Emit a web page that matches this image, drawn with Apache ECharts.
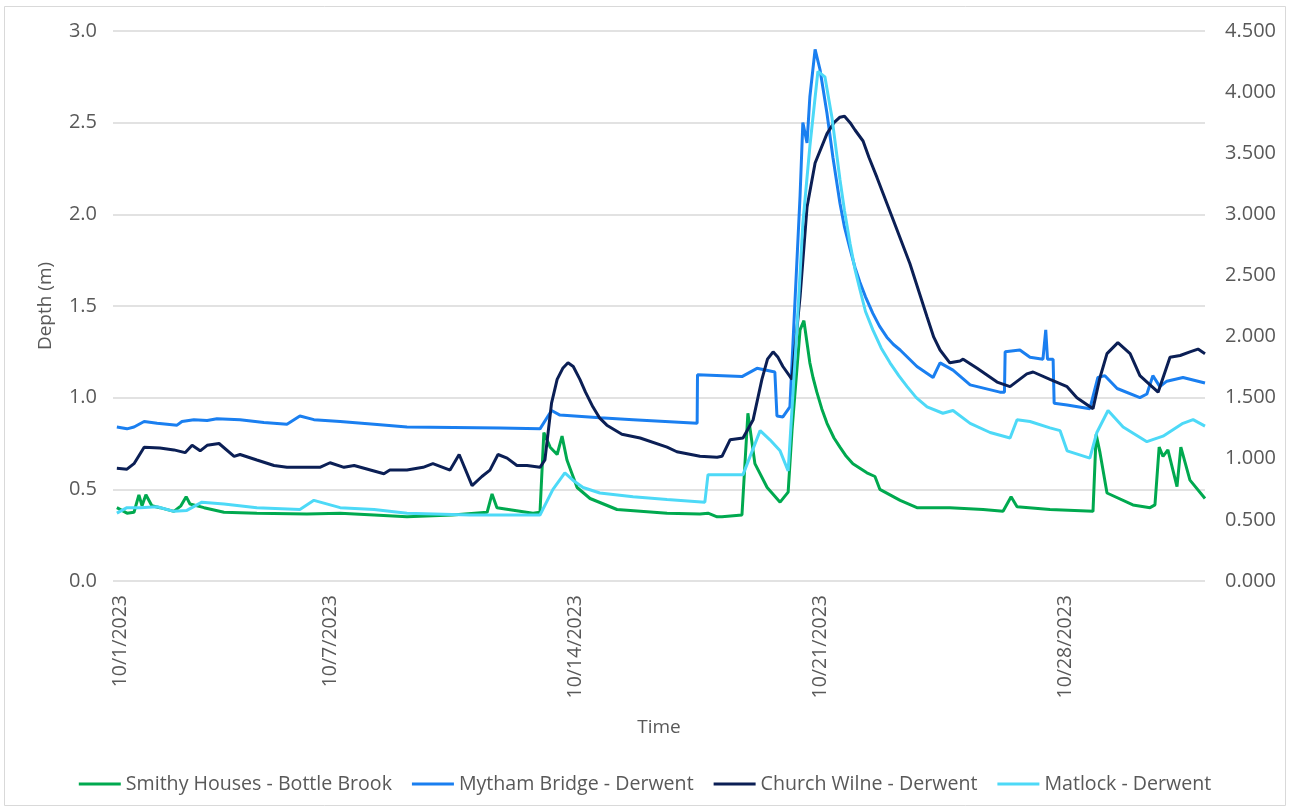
<!DOCTYPE html>
<html>
<head>
<meta charset="utf-8">
<script src="https://cdn.jsdelivr.net/npm/echarts@6/dist/echarts.min.js"></script>
<style>
html,body{margin:0;padding:0;background:#fff;}
#chart{width:1290px;height:811px;}
</style>
</head>
<body>
<div id="chart"></div>
<script>
// x values are days since 10/1/2023 00:00
const xTickDays = [0, 6, 13, 20, 27];
const xTickLabels = ['10/1/2023', '10/7/2023', '10/14/2023', '10/21/2023', '10/28/2023'];
const leftTicks = [0, 0.5, 1.0, 1.5, 2.0, 2.5, 3.0];
const rightTicks = [0, 0.5, 1, 1.5, 2, 2.5, 3, 3.5, 4, 4.5];

const seriesNames = ['Smithy Houses - Bottle Brook', 'Mytham Bridge - Derwent', 'Church Wilne - Derwent', 'Matlock - Derwent'];

const smithyDays = [-0.09,0.2,0.4,0.54,0.63,0.74,0.91,1.14,1.54,1.74,1.89,2.0,2.4,2.97,3.91,5.34,6.29,7.26,8.2,9.5,10.49,10.63,10.77,11.8,12.0,12.11,12.29,12.49,12.63,12.77,13.06,13.43,14.2,15.63,16.57,16.8,17.06,17.2,17.77,17.94,18.14,18.49,18.86,19.09,19.2,19.43,19.54,19.71,19.8,19.91,20.05,20.2,20.4,20.57,20.75,20.94,21.34,21.57,21.71,22.29,22.77,23.71,24.66,25.23,25.46,25.63,26.57,27.8,27.89,28.0,28.2,28.94,29.43,29.57,29.69,29.8,29.94,30.2,30.31,30.57,31.0];
const smithyDepth = [0.40,0.37,0.375,0.47,0.41,0.47,0.41,0.40,0.38,0.41,0.46,0.42,0.40,0.375,0.37,0.365,0.37,0.36,0.35,0.36,0.375,0.475,0.40,0.37,0.375,0.81,0.73,0.69,0.79,0.66,0.51,0.45,0.39,0.37,0.365,0.37,0.35,0.35,0.36,0.915,0.64,0.51,0.43,0.485,0.82,1.37,1.42,1.19,1.11,1.03,0.94,0.86,0.78,0.73,0.68,0.64,0.59,0.57,0.50,0.44,0.40,0.40,0.39,0.38,0.46,0.405,0.39,0.38,0.80,0.70,0.48,0.415,0.40,0.415,0.73,0.68,0.715,0.515,0.73,0.55,0.45];

const mythamDays = [-0.09,0.2,0.4,0.69,1.06,1.63,1.77,2.11,2.49,2.77,3.43,4.11,4.77,5.14,5.54,6.29,7.26,8.2,10.86,12.0,12.33,12.57,13.71,14.66,16.49,16.5,17.77,18.2,18.71,18.77,18.94,19.14,19.43,19.51,19.63,19.71,19.86,20.0,20.2,20.37,20.57,20.7,20.86,21.0,21.14,21.3,21.51,21.7,21.91,22.1,22.29,22.77,23.23,23.43,23.8,24.29,25.14,25.27,25.29,25.71,26.0,26.37,26.45,26.5,26.66,26.69,27.06,27.71,27.94,28.14,28.49,29.14,29.34,29.51,29.71,29.91,30.37,31.0];
const mythamDepth = [0.84,0.83,0.84,0.87,0.86,0.85,0.87,0.88,0.875,0.885,0.88,0.865,0.855,0.90,0.88,0.87,0.855,0.84,0.835,0.83,0.93,0.905,0.89,0.88,0.86,1.125,1.115,1.16,1.14,0.90,0.895,0.95,2.10,2.50,2.39,2.64,2.90,2.79,2.55,2.31,2.06,1.93,1.81,1.71,1.63,1.55,1.46,1.39,1.33,1.29,1.26,1.17,1.11,1.19,1.15,1.07,1.03,1.03,1.25,1.26,1.22,1.21,1.37,1.21,1.21,0.97,0.96,0.94,1.11,1.12,1.05,1.00,1.02,1.12,1.06,1.09,1.11,1.08];

const churchDays = [-0.09,0.2,0.4,0.69,1.14,1.54,1.86,2.06,2.29,2.49,2.83,3.26,3.43,3.91,4.4,4.77,5.34,5.71,6.0,6.4,6.69,7.54,7.71,8.2,8.66,8.94,9.43,9.69,10.06,10.34,10.57,10.8,11.06,11.34,11.63,12.0,12.14,12.33,12.49,12.65,12.8,12.95,13.14,13.3,13.51,13.7,13.91,14.34,14.86,15.63,15.91,16.57,17.06,17.2,17.43,17.8,18.09,18.34,18.5,18.66,18.8,18.94,19.2,19.43,19.63,19.86,20.2,20.4,20.57,20.7,20.86,21.0,21.23,21.4,21.63,22.09,22.57,23.06,23.25,23.43,23.71,24.0,24.09,24.49,25.06,25.43,25.91,26.09,26.57,27.06,27.34,27.8,28.0,28.2,28.51,28.86,29.14,29.43,29.66,30.0,30.29,30.57,30.8,31.0];
const churchDepth = [0.615,0.61,0.64,0.73,0.725,0.715,0.70,0.74,0.71,0.74,0.75,0.68,0.69,0.66,0.63,0.62,0.62,0.62,0.645,0.62,0.63,0.585,0.605,0.605,0.62,0.64,0.605,0.69,0.52,0.57,0.605,0.69,0.67,0.63,0.63,0.62,0.66,0.97,1.10,1.16,1.19,1.17,1.10,1.03,0.95,0.89,0.85,0.80,0.78,0.73,0.705,0.68,0.675,0.68,0.77,0.78,0.88,1.10,1.21,1.25,1.22,1.17,1.10,1.55,2.04,2.28,2.44,2.50,2.53,2.535,2.50,2.46,2.40,2.31,2.20,1.97,1.73,1.44,1.33,1.26,1.19,1.20,1.21,1.16,1.085,1.06,1.13,1.14,1.10,1.06,1.00,0.94,1.11,1.24,1.30,1.24,1.12,1.07,1.03,1.22,1.23,1.25,1.265,1.24];

const matlockDays = [-0.09,0.2,0.57,1.06,1.54,1.91,2.34,2.97,3.91,5.14,5.54,6.29,7.26,8.2,10.0,12.0,12.37,12.71,12.94,13.23,13.71,14.66,15.63,16.71,16.8,17.8,18.29,18.57,18.86,19.09,19.34,19.51,19.71,19.94,20.14,20.34,20.57,20.7,20.86,21.0,21.14,21.3,21.51,21.75,22.0,22.25,22.49,22.75,23.06,23.51,23.8,24.29,24.86,25.43,25.63,26.0,26.57,26.86,27.06,27.71,27.91,28.23,28.66,29.34,29.8,30.37,30.66,31.0];
const matlockDepth = [0.37,0.40,0.40,0.405,0.38,0.385,0.43,0.42,0.40,0.39,0.44,0.40,0.39,0.37,0.36,0.36,0.50,0.59,0.55,0.51,0.48,0.46,0.445,0.43,0.58,0.58,0.82,0.77,0.71,0.60,1.37,1.95,2.37,2.78,2.75,2.53,2.19,2.02,1.84,1.70,1.59,1.47,1.37,1.27,1.19,1.12,1.06,1.00,0.95,0.915,0.93,0.86,0.81,0.78,0.88,0.87,0.835,0.82,0.71,0.67,0.81,0.93,0.84,0.76,0.79,0.86,0.88,0.845];

const colors = ['#00A94F', '#1A7FF0', '#0B1F55', '#4DD9F7'];

function pairs(days, vals) { return days.map((d, i) => [d, vals[i]]); }
const allData = [
  pairs(smithyDays, smithyDepth),
  pairs(mythamDays, mythamDepth),
  pairs(churchDays, churchDepth),
  pairs(matlockDays, matlockDepth)
];

const FONT = 'Open Sans';
const TXT = '#595959';

const chart = echarts.init(document.getElementById('chart'), null, { renderer: 'canvas' });
chart.setOption({
  animation: false,
  backgroundColor: '#ffffff',
  textStyle: { fontFamily: FONT },
  graphic: [{
    type: 'rect', shape: { x: 4.5, y: 6.5, width: 1281, height: 799 },
    style: { fill: 'none', stroke: '#d9d9d9', lineWidth: 1 }, silent: true, z: -1
  }],
  grid: { left: 113, right: 85, top: 31, bottom: 230, containLabel: false },
  legend: {
    bottom: 12, left: 'center',
    icon: 'rect', itemWidth: 42, itemHeight: 3, itemGap: 20,
    textStyle: { fontFamily: FONT, fontSize: 19.6, color: TXT },
    data: seriesNames
  },
  xAxis: {
    type: 'value', min: -0.2, max: 31.0,
    name: 'Time', nameLocation: 'middle', nameGap: 137,
    nameTextStyle: { fontFamily: FONT, fontSize: 19, color: TXT },
    axisLine: { show: false }, axisTick: { show: false },
    splitLine: { show: false },
    axisLabel: {
      customValues: xTickDays, rotate: 90, margin: 14,
      fontFamily: FONT, fontSize: 19.5, color: TXT,
      formatter: v => { const i = xTickDays.indexOf(v); return i >= 0 ? xTickLabels[i] : ''; }
    }
  },
  yAxis: [{
    type: 'value', min: leftTicks[0], max: leftTicks[leftTicks.length - 1], interval: 0.5,
    name: 'Depth (m)', nameLocation: 'middle', nameGap: 58,
    nameTextStyle: { fontFamily: FONT, fontSize: 19, color: TXT },
    axisLine: { show: false }, axisTick: { show: false },
    splitLine: { lineStyle: { color: '#d9d9d9', width: 1.5 } },
    axisLabel: { margin: 16, fontFamily: FONT, fontSize: 20, color: TXT, formatter: v => v.toFixed(1) }
  }, {
    type: 'value', min: rightTicks[0], max: rightTicks[rightTicks.length - 1], interval: 0.5,
    position: 'right',
    axisLine: { show: false }, axisTick: { show: false },
    splitLine: { show: false },
    axisLabel: { margin: 20, fontFamily: FONT, fontSize: 20, color: TXT, formatter: v => v.toFixed(3) }
  }],
  series: seriesNames.map((n, i) => ({
    name: n, type: 'line', yAxisIndex: 0,
    data: allData[i], showSymbol: false, symbol: 'none',
    lineStyle: { color: colors[i], width: 3 },
    itemStyle: { color: colors[i] },
    z: 2 + i
  }))
});
</script>
</body>
</html>
